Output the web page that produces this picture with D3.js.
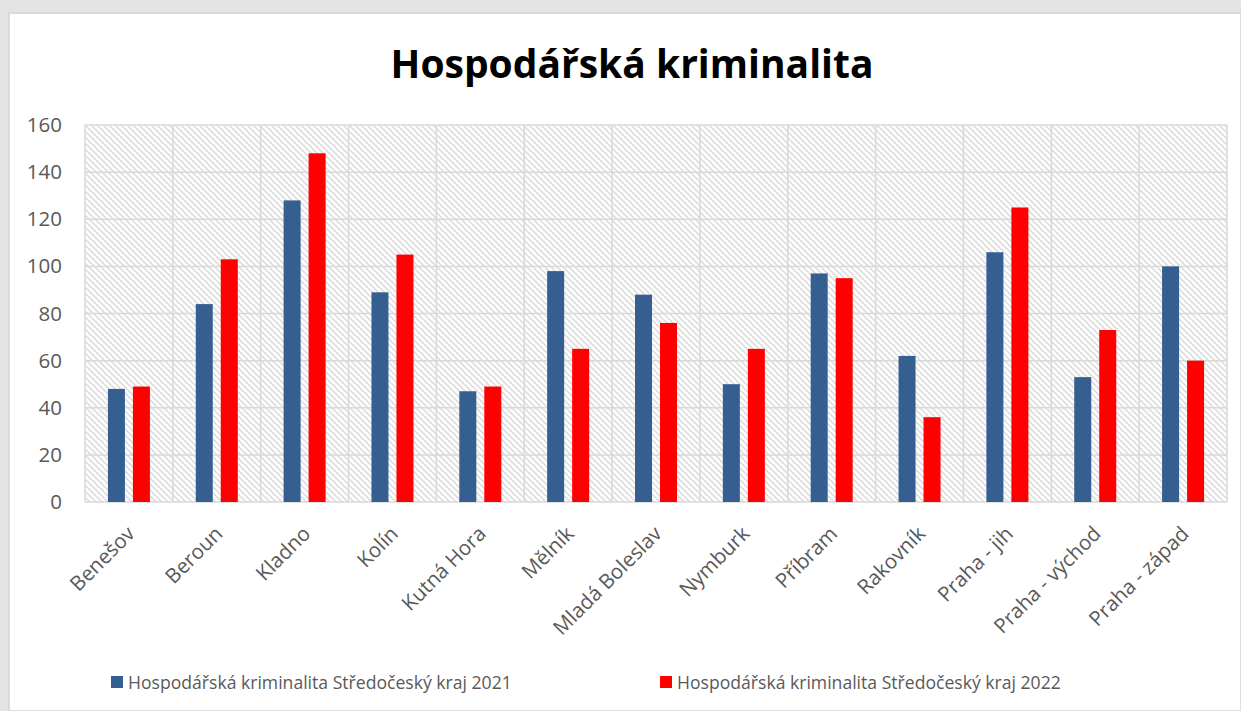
<!DOCTYPE html>
<html>
<head>
<meta charset="utf-8">
<script src="https://cdn.jsdelivr.net/npm/d3@7"></script>
<style>
  body { margin: 0; background: #e3e3e3; }
  svg { display: block; }
</style>
</head>
<body>
<div id="plot"></div>
<script>
// ############ DATA ###############

const districts = ["Benešov", "Beroun", "Kladno", "Kolín", "Kutná Hora", "Mělník",
  "Mladá Boleslav", "Nymburk", "Příbram", "Rakovník", "Praha - jih", "Praha - východ", "Praha - západ"];
const values2021 = [48, 84, 128, 89, 47, 98, 88, 50, 97, 62, 106, 53, 100];
const values2022 = [49, 103, 148, 105, 49, 65, 76, 65, 95, 36, 125, 73, 60];
const seriesNames = ["Hospodářská kriminalita Středočeský kraj 2021", "Hospodářská kriminalita Středočeský kraj 2022"];
const yTicks = [0, 20, 40, 60, 80, 100, 120, 140, 160];

// ############ SETUP ###############

const w = 1241, h = 711;
const margin = {left: 85, right: 14, top: 125, bottom: 209};
const innerWidth = w - margin.left - margin.right;
const innerHeight = h - margin.top - margin.bottom;
const colors = ["#365f91", "#ff0000"];
const textColor = "#595959";
const font = "'Open Sans', sans-serif";

const svg = d3.select("div#plot")
  .append("svg")
  .attr("width", w)
  .attr("height", h);

// slide background + white card
svg.append("rect").attr("width", w).attr("height", h).attr("fill", "#e4e4e4");
svg.append("rect")
  .attr("x", 9).attr("y", 13)
  .attr("width", w - 9).attr("height", h - 13)
  .attr("fill", "#ffffff")
  .attr("stroke", "#d4d4d4")
  .attr("stroke-width", 1.5);

// hatch pattern for the plot area
const defs = svg.append("defs");
const pat = defs.append("pattern")
  .attr("id", "hatch")
  .attr("patternUnits", "userSpaceOnUse")
  .attr("width", 6).attr("height", 6);
pat.append("rect").attr("width", 6).attr("height", 6).attr("fill", "#ffffff");
pat.append("path")
  .attr("d", "M-1,-1 L7,7 M-1,5 L1,7 M5,-1 L7,1")
  .attr("stroke", "#dedede")
  .attr("stroke-width", 1.6);

const xScale = d3.scaleBand()
  .domain(districts)
  .range([0, innerWidth]);

const yScale = d3.scaleLinear()
  .domain([0, 160])
  .range([innerHeight, 0]);

const plot = svg.append("g")
  .attr("id", "plotarea")
  .attr("transform", `translate( ${margin.left}, ${margin.top} )`);

plot.append("rect")
  .attr("width", innerWidth)
  .attr("height", innerHeight)
  .attr("fill", "url(#hatch)");

// horizontal gridlines
plot.append("g")
  .selectAll("line")
  .data(yTicks)
  .enter()
  .append("line")
    .attr("x1", 0)
    .attr("x2", innerWidth)
    .attr("y1", d => yScale(d))
    .attr("y2", d => yScale(d))
    .attr("stroke", "#d9d9d9")
    .attr("stroke-width", 1.5);

// vertical gridlines (category boundaries)
plot.append("g")
  .selectAll("line")
  .data(districts.concat(["end"]))
  .enter()
  .append("line")
    .attr("x1", (d, i) => i * xScale.step())
    .attr("x2", (d, i) => i * xScale.step())
    .attr("y1", 0)
    .attr("y2", innerHeight)
    .attr("stroke", "#d9d9d9")
    .attr("stroke-width", 1.5);

// y-axis labels
const yAxis = d3.axisLeft(yScale).tickValues(yTicks).tickSize(0).tickPadding(23);
plot.append("g")
  .attr("id", "yaxis")
  .call(yAxis)
  .call(g => g.select(".domain").remove())
  .selectAll("text")
    .attr("fill", textColor)
    .style("font-family", font)
    .style("font-size", "20.5px");

// x-axis labels
const xAxis = d3.axisBottom(xScale).tickSize(0).tickPadding(0);
plot.append("g")
  .attr("id", "xaxis")
  .attr("transform", `translate(0, ${innerHeight})`)
  .call(xAxis)
  .call(g => g.select(".domain").remove())
  .selectAll("text")
    .attr("fill", textColor)
    .style("font-family", font)
    .style("font-size", "20.5px")
    .attr("text-anchor", "end")
    .attr("dy", null)
    .attr("y", 0)
    .attr("transform", "translate(7, 33) rotate(-45)");

// bars
const barW = 17, gap = 8;
const bars = plot.append("g").attr("id", "bars");
[values2021, values2022].forEach((vals, s) => {
  bars.append("g")
    .selectAll("rect")
    .data(vals)
    .enter()
    .append("rect")
      .attr("x", (d, i) => xScale(districts[i]) + xScale.bandwidth() / 2 - gap / 2 - barW + s * (barW + gap))
      .attr("y", d => yScale(d))
      .attr("width", barW)
      .attr("height", d => innerHeight - yScale(d))
      .attr("fill", colors[s]);
});

// title
svg.append("text")
  .attr("x", 632)
  .attr("y", 78)
  .attr("text-anchor", "middle")
  .style("font-family", font)
  .style("font-size", "39px")
  .style("font-weight", "bold")
  .attr("fill", "#000000")
  .text("Hospodářská kriminalita");

// legend
const legendX = [111, 660];
const legend = svg.append("g").attr("id", "legend");
seriesNames.forEach((name, s) => {
  legend.append("rect")
    .attr("x", legendX[s]).attr("y", 676)
    .attr("width", 12).attr("height", 12)
    .attr("fill", colors[s]);
  legend.append("text")
    .attr("x", legendX[s] + 17)
    .attr("y", 689)
    .attr("fill", textColor)
    .style("font-family", font)
    .style("font-size", "17.6px")
    .text(name);
});
</script>
</body>
</html>
